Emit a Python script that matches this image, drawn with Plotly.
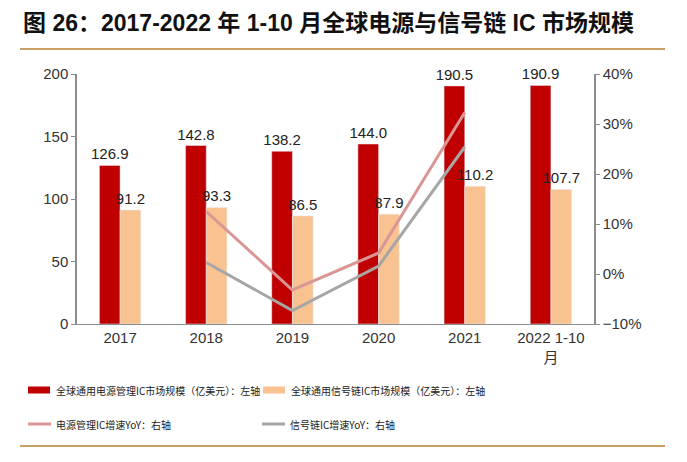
import plotly.graph_objects as go

categories = ["2017", "2018", "2019", "2020", "2021", "2022 1-10<br>月"]
power_ic = [126.9, 142.8, 138.2, 144.0, 190.5, 190.9]
signal_ic = [91.2, 93.3, 86.5, 87.9, 110.2, 107.7]
power_yoy = [None, 12.5, -3.2, 4.2, 32.3, None]
signal_yoy = [None, 2.3, -7.3, 1.6, 25.4, None]

legend_names = [
    "全球通用电源管理IC市场规模（亿美元）：左轴",
    "全球通用信号链IC市场规模（亿美元）：左轴",
    "电源管理IC增速YoY：右轴",
    "信号链IC增速YoY：右轴",
]
title_text = "图 26：2017-2022 年 1-10 月全球电源与信号链 IC 市场规模"

RED = "#C00000"
ORANGE = "#F8C291"
PINK = "#DA9694"
GRAY = "#A6A6A6"
GOLD = "#C9A063"
FONT = "Liberation Sans, Arial, Noto Sans CJK SC"
OFF = 8  # default page body margin
W, H = 687 - OFF, 462 - OFF
L, R, T, B = 77 - OFF, 93, 74 - OFF, 138
PW, PH = W - L - R, H - T - B

fig = go.Figure()
fig.add_trace(go.Bar(x=categories, y=power_ic, marker_color=RED, name=legend_names[0],
                     text=[f"{v:.1f}" for v in power_ic], textposition="outside",
                     constraintext="none", textfont=dict(size=15, color="#222"),
                     cliponaxis=False))
fig.add_trace(go.Bar(x=categories, y=signal_ic, marker_color=ORANGE, name=legend_names[1],
                     text=[f"{v:.1f}" for v in signal_ic], textposition="outside",
                     constraintext="none", textfont=dict(size=15, color="#222"),
                     cliponaxis=False))
fig.add_trace(go.Scatter(x=categories, y=power_yoy, mode="lines", yaxis="y2",
                         line=dict(color=PINK, width=3), name=legend_names[2]))
fig.add_trace(go.Scatter(x=categories, y=signal_yoy, mode="lines", yaxis="y2",
                         line=dict(color=GRAY, width=3), name=legend_names[3]))

fig.update_layout(
    width=W, height=H, showlegend=False,
    margin=dict(l=L, r=R, t=T, b=B),
    plot_bgcolor="white", paper_bgcolor="white",
    font=dict(family=FONT, color="#333"),
    barmode="group", bargap=0.52, bargroupgap=0,
    xaxis=dict(showline=True, linecolor="#8c8c8c", linewidth=1, ticks="",
               tickfont=dict(size=15, color="#333"), automargin=False),
    yaxis=dict(range=[0, 200], dtick=50, showgrid=False, zeroline=False,
               showline=True, linecolor="#8c8c8c", linewidth=1.5,
               ticks="outside", ticklen=4, tickcolor="#8c8c8c",
               tickfont=dict(size=15, color="#333"), automargin=False),
    yaxis2=dict(range=[-10, 40], dtick=10, overlaying="y", side="right",
                showgrid=False, zeroline=False, ticksuffix="%",
                showline=True, linecolor="#8c8c8c", linewidth=1.5,
                ticks="outside", ticklen=4, tickcolor="#8c8c8c",
                tickfont=dict(size=15, color="#333"), automargin=False),
)

def px(x):
    return (x - OFF - L) / PW

def py(y):
    return (H - B - (y - OFF)) / PH

ann = [dict(text=f"<b>{title_text}</b>", x=px(21), y=py(23), xref="paper", yref="paper",
            xanchor="left", yanchor="middle", showarrow=False,
            font=dict(size=23, color="#111", family="Liberation Sans, Arial, Noto Sans CJK SC"))]
shapes = [
    dict(type="line", xref="paper", yref="paper", x0=px(20), x1=px(665), y0=py(49), y1=py(49),
         line=dict(color=GOLD, width=2)),
    dict(type="line", xref="paper", yref="paper", x0=px(20), x1=px(665), y0=py(446), y1=py(446),
         line=dict(color=GOLD, width=2)),
]
legend_items = [
    (28, 390, RED, "rect", legend_names[0]),
    (263, 390, ORANGE, "rect", legend_names[1]),
    (28, 424, PINK, "line", legend_names[2]),
    (262, 424, GRAY, "line", legend_names[3]),
]
for x, y, c, kind, name in legend_items:
    if kind == "rect":
        shapes.append(dict(type="rect", xref="paper", yref="paper", x0=px(x), x1=px(x + 22),
                           y0=py(y + 3.5), y1=py(y - 3.5), fillcolor=c, line=dict(width=0)))
    else:
        shapes.append(dict(type="line", xref="paper", yref="paper", x0=px(x), x1=px(x + 23),
                           y0=py(y), y1=py(y), line=dict(color=c, width=3)))
    ann.append(dict(text=name, x=px(x + 26), y=py(y), xref="paper", yref="paper",
                    xanchor="left", yanchor="middle", showarrow=False,
                    font=dict(size=10, color="#222", family="Noto Sans CJK SC")))
fig.update_layout(annotations=ann, shapes=shapes)
fig.write_html("out.html")
